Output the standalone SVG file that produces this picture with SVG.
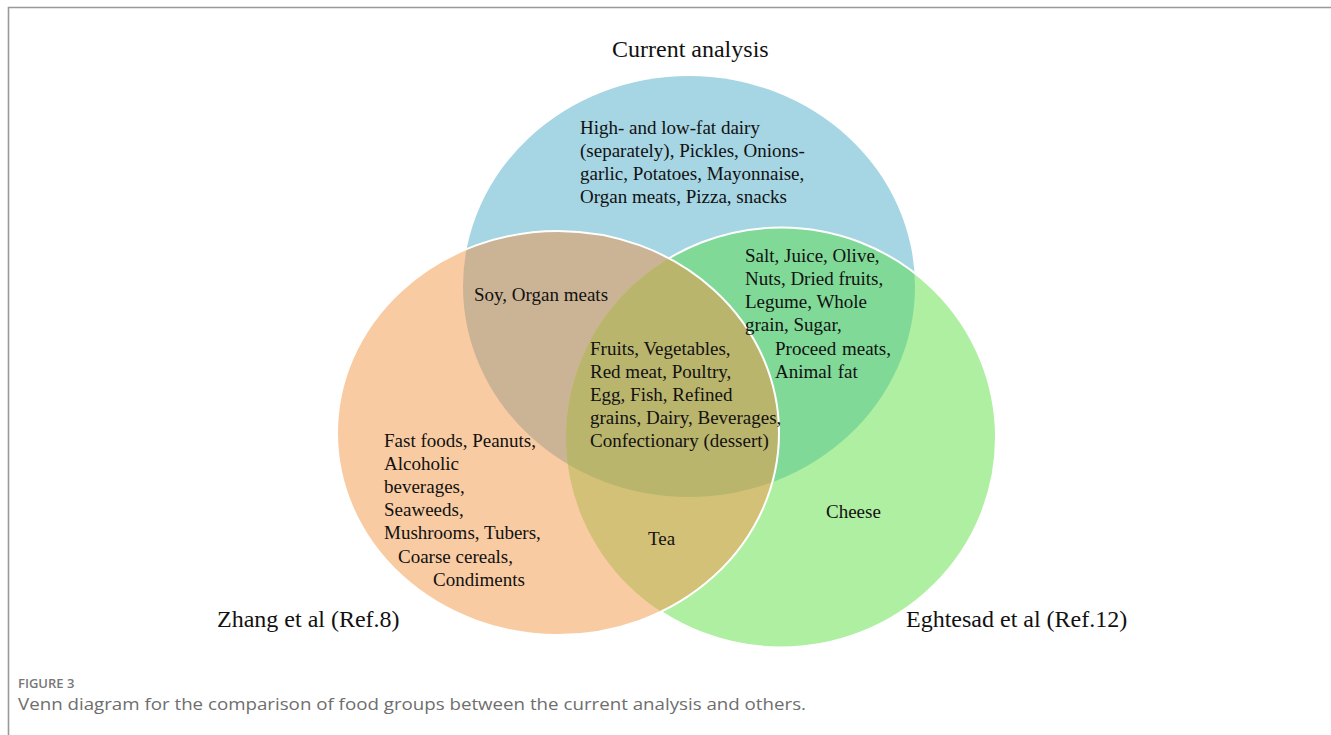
<svg xmlns="http://www.w3.org/2000/svg" width="1331" height="735" viewBox="0 0 1331 735">
<style>
.t{font-family:"Liberation Serif","Times New Roman",serif;font-size:19px;fill:#111}
.big{font-family:"Liberation Serif","Times New Roman",serif;font-size:24px;fill:#111}
.cap1{font-family:"Open Sans","Noto Sans",sans-serif;font-size:13px;font-weight:600;fill:#777}
.cap2{font-family:"Open Sans","Noto Sans",sans-serif;font-size:17px;fill:#6e6e6e}
.edge{fill:none;stroke:#fff;stroke-width:2}
</style>
<defs>
<ellipse id="eB" cx="689" cy="286.5" rx="226" ry="210.5"/>
<ellipse id="eO" cx="558" cy="433" rx="221" ry="202"/>
<ellipse id="eG" cx="781" cy="437.5" rx="215" ry="210"/>
<clipPath id="cB"><use href="#eB"/></clipPath>
<clipPath id="cG"><use href="#eG"/></clipPath>
</defs>
<rect width="1331" height="735" fill="#fff"/>
<path d="M8.5,735 V7.5 H1331" fill="none" stroke="#999" stroke-width="1.6"/>

<g id="circle-current">
<use href="#eB" fill="#a6d5e3"/>
</g>
<g id="circle-eghtesad">
<use href="#eG" fill="#afefa2"/>
<use href="#eG" fill="#80d997" clip-path="url(#cB)"/>
<use href="#eG" class="edge"/>
</g>
<g id="circle-zhang">
<use href="#eO" fill="#f9cba2"/>
<use href="#eO" fill="#cbb495" clip-path="url(#cB)"/>
<use href="#eO" fill="#d3c177" clip-path="url(#cG)"/>
<g clip-path="url(#cB)"><use href="#eO" fill="#bab56d" clip-path="url(#cG)"/></g>
<use href="#eO" class="edge"/>
</g>

<g id="labels-current">
<text class="big" x="612" y="57">Current analysis</text>
<text class="t" x="580" y="134">High- and low-fat dairy</text>
<text class="t" x="580" y="157">(separately), Pickles, Onions-</text>
<text class="t" x="580" y="180">garlic, Potatoes, Mayonnaise,</text>
<text class="t" x="580" y="203">Organ meats, Pizza, snacks</text>
</g>
<g id="labels-current-zhang">
<text class="t" x="474" y="301">Soy, Organ meats</text>
</g>
<g id="labels-current-eghtesad">
<text class="t" x="745" y="262">Salt, Juice, Olive,</text>
<text class="t" x="745" y="285">Nuts, Dried fruits,</text>
<text class="t" x="745" y="308">Legume, Whole</text>
<text class="t" x="745" y="331">grain, Sugar,</text>
<text class="t" x="775" y="355" word-spacing="1">Proceed meats,</text>
<text class="t" x="775" y="378" word-spacing="1">Animal fat</text>
</g>
<g id="labels-all">
<text class="t" x="590" y="355">Fruits, Vegetables,</text>
<text class="t" x="590" y="378">Red meat, Poultry,</text>
<text class="t" x="590" y="401">Egg, Fish, Refined</text>
<text class="t" x="590" y="424">grains, Dairy, Beverages,</text>
<text class="t" x="590" y="447">Confectionary (dessert)</text>
</g>
<g id="labels-zhang">
<text class="t" x="384" y="447">Fast foods, Peanuts,</text>
<text class="t" x="384" y="470">Alcoholic</text>
<text class="t" x="384" y="493">beverages,</text>
<text class="t" x="384" y="516">Seaweeds,</text>
<text class="t" x="384" y="539">Mushrooms, Tubers,</text>
<text class="t" x="398" y="563">Coarse cereals,</text>
<text class="t" x="433" y="586">Condiments</text>
<text class="big" x="217" y="627">Zhang et al (Ref.8)</text>
</g>
<g id="labels-zhang-eghtesad">
<text class="t" x="648" y="545">Tea</text>
</g>
<g id="labels-eghtesad">
<text class="t" x="826" y="518">Cheese</text>
<text class="big" x="906" y="627">Eghtesad et al (Ref.12)</text>
</g>

<g id="caption">
<text class="cap1" x="18" y="688">FIGURE 3</text>
<text class="cap2" x="18" y="710" textLength="788" lengthAdjust="spacingAndGlyphs">Venn diagram for the comparison of food groups between the current analysis and others.</text>
</g>
</svg>
